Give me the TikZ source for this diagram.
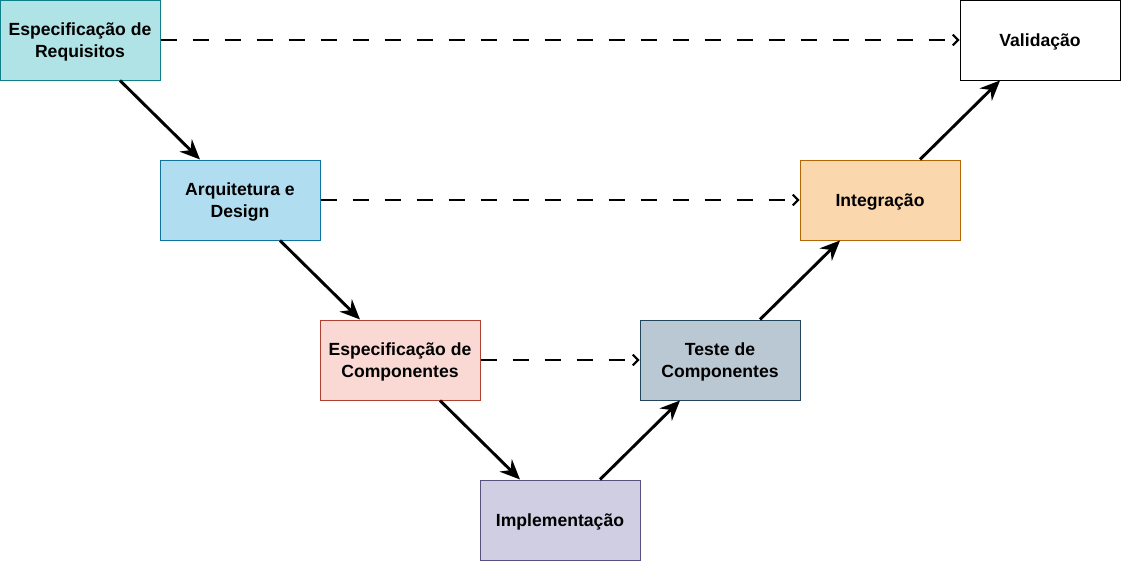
\documentclass[tikz,border=0pt]{standalone}
\usepackage{fontspec}
\setmainfont{Liberation Sans}
\usepackage{xcolor}
\usetikzlibrary{arrows.meta,positioning,calc}
\definecolor{reqfill}{HTML}{B0E3E6}
\definecolor{reqline}{HTML}{0E8088}
\definecolor{arqfill}{HTML}{B1DDF0}
\definecolor{arqline}{HTML}{10739E}
\definecolor{compfill}{HTML}{FAD9D5}
\definecolor{compline}{HTML}{AE4132}
\definecolor{implfill}{HTML}{D0CEE2}
\definecolor{implline}{HTML}{56517E}
\definecolor{testfill}{HTML}{BAC8D3}
\definecolor{testline}{HTML}{23445D}
\definecolor{intfill}{HTML}{FAD7AC}
\definecolor{intline}{HTML}{B46504}
\tikzset{
  % caixa base
  box/.style={
    draw,
    line width=0.75pt,
    minimum width=120pt,
    minimum height=60pt,
    align=center,
    inner sep=0pt,
    text depth=0pt,
    font=\fontsize{13.2}{16.5}\selectfont\bfseries
  },
  % setas
  seta/.style={-{Stealth[length=15pt, width=13pt, inset=5pt]}, line width=2.2pt},
  tracejado/.style={-{Straight Barb[length=4pt, width=8pt]}, line width=1.5pt,
    dash pattern=on 12pt off 12pt},
}
\begin{document}
\begin{tikzpicture}[x=0.75pt, y=-0.75pt]
    \useasboundingbox (0,0) rectangle (1121,561);
    % lado esquerdo do V
    \node[box, fill=reqfill, draw=reqline] (req) at (80,40) {Especificação de\\Requisitos};
    \node[box, fill=arqfill, draw=arqline] (arq) at (240,200) {Arquitetura e\\Design};
    \node[box, fill=compfill, draw=compline] (comp) at (400,360) {Especificação de\\Componentes};
    \node[box, fill=implfill, draw=implline] (impl) at (560,520) {Implementação};
    % lado direito do V
    \node[box, fill=testfill, draw=testline] (teste) at (720,360) {Teste de\\Componentes};
    \node[box, fill=intfill, draw=intline] (integ) at (880,200) {Integração};
    \node[box, fill=white, draw=black] (val) at (1040,40) {Validação};

    % descida
    \draw[seta] ([xshift=30pt]req.south) -- ([xshift=-30pt]arq.north);
    \draw[seta] ([xshift=30pt]arq.south) -- ([xshift=-30pt]comp.north);
    \draw[seta] ([xshift=30pt]comp.south) -- ([xshift=-30pt]impl.north);
    % subida
    \draw[seta] ([xshift=30pt]impl.north) -- ([xshift=-30pt]teste.south);
    \draw[seta] ([xshift=30pt]teste.north) -- ([xshift=-30pt]integ.south);
    \draw[seta] ([xshift=30pt]integ.north) -- ([xshift=-30pt]val.south);

    % verificacoes
    \draw[tracejado] (req.east) -- (val.west);
    \draw[tracejado] (arq.east) -- (integ.west);
    \draw[tracejado] (comp.east) -- (teste.west);
\end{tikzpicture}
\end{document}
